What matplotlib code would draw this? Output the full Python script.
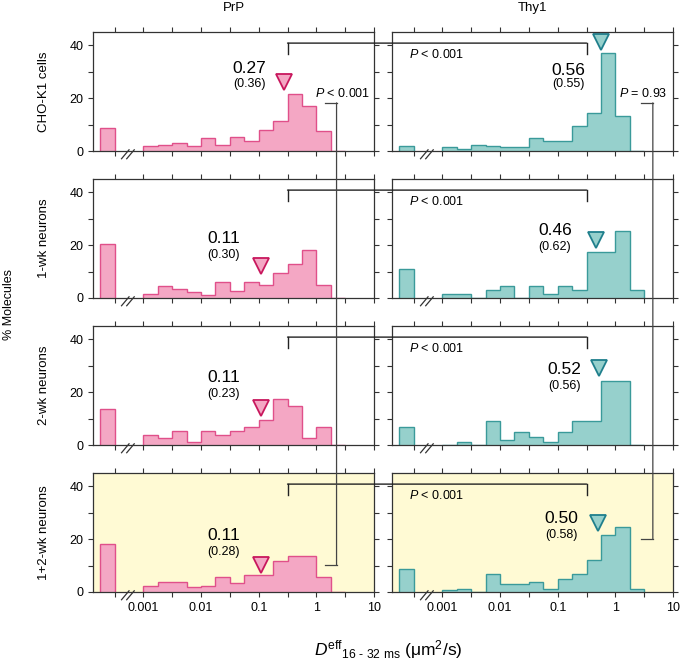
import numpy as np
import matplotlib
matplotlib.use('Agg')
from matplotlib import pyplot as plt
from matplotlib.patches import ConnectionPatch

plt.rcParams['font.family'] = ['Liberation Sans', 'DejaVu Sans']
plt.rcParams['mathtext.fontset'] = 'custom'
plt.rcParams['mathtext.rm'] = 'Liberation Sans'
plt.rcParams['mathtext.it'] = 'Liberation Sans:italic'

# data (% molecules per quarter-decade bin, 0.001 .. 3.16)
row_labels = ['CHO-K1 cells', '1-wk neurons', '2-wk neurons', '1+2-wk neurons']

prp_immobile = [8.7, 20.4, 13.5, 18.2]
prp_counts = [
    [1.8, 2.1, 3.2, 1.8, 4.8, 2.3, 5.2, 3.9, 8.1, 11.4, 21.7, 16.9, 7.4, 0],
    [1.6, 4.5, 3.5, 2.3, 1.0, 6.2, 2.8, 6.2, 5.0, 9.6, 13.0, 18.2, 5.0, 0],
    [3.9, 2.6, 5.3, 1.3, 5.3, 3.9, 5.3, 6.7, 9.4, 17.5, 14.7, 2.6, 6.7, 0],
    [2.4, 3.8, 3.8, 1.9, 2.4, 5.7, 3.4, 6.3, 6.3, 11.9, 13.5, 13.5, 5.7, 0],
]
thy1_immobile = [1.9, 11.1, 6.9, 8.6]
thy1_counts = [
    [1.5, 0.9, 2.4, 2.0, 1.4, 1.4, 5.0, 3.9, 3.9, 9.6, 14.5, 37.1, 13.1, 0],
    [1.5, 1.5, 0, 3.1, 4.5, 0, 4.5, 1.6, 4.5, 3.1, 17.4, 17.4, 25.3, 3.1],
    [0, 1.0, 0, 8.9, 1.9, 4.9, 3.0, 1.0, 4.9, 8.9, 8.9, 24.2, 24.2, 0],
    [0.6, 1.3, 0, 6.7, 2.9, 2.9, 3.6, 1.1, 4.9, 6.8, 12.1, 21.5, 24.5, 1.3],
]
prp_median = [0.27, 0.11, 0.11, 0.11]
prp_mean = [0.36, 0.30, 0.23, 0.28]
thy1_median = [0.56, 0.46, 0.52, 0.50]
thy1_mean = [0.55, 0.62, 0.56, 0.58]

# annotation placement (baselines in data units)
prp_marker_y = [26.1, 12.1, 14.0, 10.2]
thy1_marker_y = [41.3, 21.9, 29.1, 26.0]
prp_text_x = [0.068, 0.0245, 0.0245, 0.0245]
prp_text_y = [(29.6, 24.1), (20.7, 15.1), (23.9, 18.0), (19.7, 13.9)]
thy1_text_x = [0.155, 0.0897, 0.129, 0.116]
thy1_text_y = [(28.6, 24.2), (23.8, 18.2), (26.8, 21.2), (26.0, 20.5)]

edges = 10 ** (-3 + 0.25 * np.arange(15))
imm_edges = [10 ** -3.75, 10 ** -3.5]

pink_face, pink_edge, pink_mark = '#f4a7c4', '#e0508a', '#c8175d'
teal_face, teal_edge, teal_mark = '#96d0cc', '#3a9a9a', '#1f7f8c'
yellow = '#fffad4'

fig = plt.figure(figsize=(6.8, 6.6), dpi=100)
W, H = 680.0, 660.0


def make_axes(x0, top):
    ax = fig.add_axes([x0 / W, 1 - (top + 119) / H, 281 / W, 119 / H])
    ax.set_xscale('log')
    ax.set_xlim(10 ** -3.875, 10)
    ax.set_ylim(0, 45)
    ax.set_xticks([1e-3, 1e-2, 1e-1, 1, 10])
    ax.set_xticks([10 ** (k + 0.5) for k in range(-4, 1)], minor=True)
    ax.set_yticks([0, 20, 40])
    ax.set_yticks([10, 30], minor=True)
    ax.tick_params(which='both', direction='out', length=3.5, width=0.8, color='#333333',
                   top=True, right=True, labelsize=9)
    for s in ax.spines.values():
        s.set_color('#333333')
        s.set_linewidth(0.9)
    return ax


def breakmark(ax):
    tr = matplotlib.transforms.blended_transform_factory(ax.transData, ax.transAxes)
    for a, b in [(-3.38, -3.25), (-3.29, -3.16)]:
        ax.plot([10 ** a, 10 ** b], [-0.065, 0.01], color='#333333', lw=0.9,
                transform=tr, clip_on=False)


axes = []
for i in range(4):
    top = 32 + 147 * i
    axL = make_axes(93, top)
    axR = make_axes(392, top)
    axes.append((axL, axR))
    for ax, imm, cnt, face, edge in [(axL, prp_immobile[i], prp_counts[i], pink_face, pink_edge),
                                     (axR, thy1_immobile[i], thy1_counts[i], teal_face, teal_edge)]:
        ax.stairs([imm], imm_edges, fill=True, facecolor=face, edgecolor=edge, lw=1)
        ax.stairs(cnt, edges, fill=True, facecolor=face, edgecolor=edge, lw=1)
        breakmark(ax)
        if i == 3:
            ax.set_facecolor(yellow)
            ax.set_xticklabels(['0.001', '0.01', '0.1', '1', '10'])
        else:
            ax.set_xticklabels([])
    axR.set_yticklabels([])
    axL.set_ylabel(row_labels[i], fontsize=9.5, labelpad=14)

    # medians
    axL.plot(prp_median[i], prp_marker_y[i], 'v', ms=11, mfc=pink_face, mec=pink_mark, mew=1.3)
    axR.plot(thy1_median[i], thy1_marker_y[i], 'v', ms=11, mfc=teal_face, mec=teal_mark, mew=1.3)
    axL.text(prp_text_x[i], prp_text_y[i][0], f'{prp_median[i]:.2f}', fontsize=12.5, ha='center', va='baseline')
    axL.text(prp_text_x[i], prp_text_y[i][1], f'({prp_mean[i]:.2f})', fontsize=9, ha='center', va='baseline')
    axR.text(thy1_text_x[i], thy1_text_y[i][0], f'{thy1_median[i]:.2f}', fontsize=12.5, ha='center', va='baseline')
    axR.text(thy1_text_x[i], thy1_text_y[i][1], f'({thy1_mean[i]:.2f})', fontsize=9, ha='center', va='baseline')

    # PrP vs Thy1 bracket
    xb = 10 ** -0.5
    axL.plot([xb, xb], [36.8, 40.8], color='#222222', lw=1, clip_on=False)
    axR.plot([xb, xb], [36.8, 40.8], color='#222222', lw=1, clip_on=False)
    fig.add_artist(ConnectionPatch(xyA=(xb, 40.8), coordsA=axL.transData,
                                   xyB=(xb, 40.8), coordsB=axR.transData,
                                   color='#222222', lw=1))
    axR.text(2.6e-4, 36.5, '$P$ < 0.001', fontsize=9, ha='left', va='center')

# CHO-K1 vs 1+2-wk neurons brackets
axL1, axR1 = axes[0]
axL4, axR4 = axes[3]
for a1, a4, xv, xh, y1, y4 in [(axL1, axL4, 2.24, 1.44, 18.2, 10.2),
                               (axR1, axR4, 4.47, 2.75, 18.2, 19.9)]:
    a1.plot([xh, xv], [y1, y1], color='#444444', lw=0.9, clip_on=False)
    a4.plot([xh, xv], [y4, y4], color='#444444', lw=0.9, clip_on=False)
    fig.add_artist(ConnectionPatch(xyA=(xv, y1), coordsA=a1.transData,
                                   xyB=(xv, y4), coordsB=a4.transData,
                                   color='#444444', lw=0.9))
axL1.text(8.7, 21.9, '$P$ < 0.001', fontsize=9, ha='right', va='center')
axR1.text(7.9, 21.8, '$P$ = 0.93', fontsize=9, ha='right', va='center')

fig.text(233.5 / W, 1 - 8 / H, 'PrP', fontsize=9.5, ha='center', va='center')
fig.text(532.5 / W, 1 - 8 / H, 'Thy1', fontsize=9.5, ha='center', va='center')
fig.text(9 / W, 1 - 305 / H, '% Molecules', fontsize=9, rotation=90, ha='center', va='center')
fig.text(388 / W, 1 - 650 / H, r'$D^{\mathrm{eff}}{}_{\text{16 - 32 ms}}$ (μm$^2$/s)',
         fontsize=12.5, ha='center', va='center')

fig.savefig('out.png', dpi=100)
